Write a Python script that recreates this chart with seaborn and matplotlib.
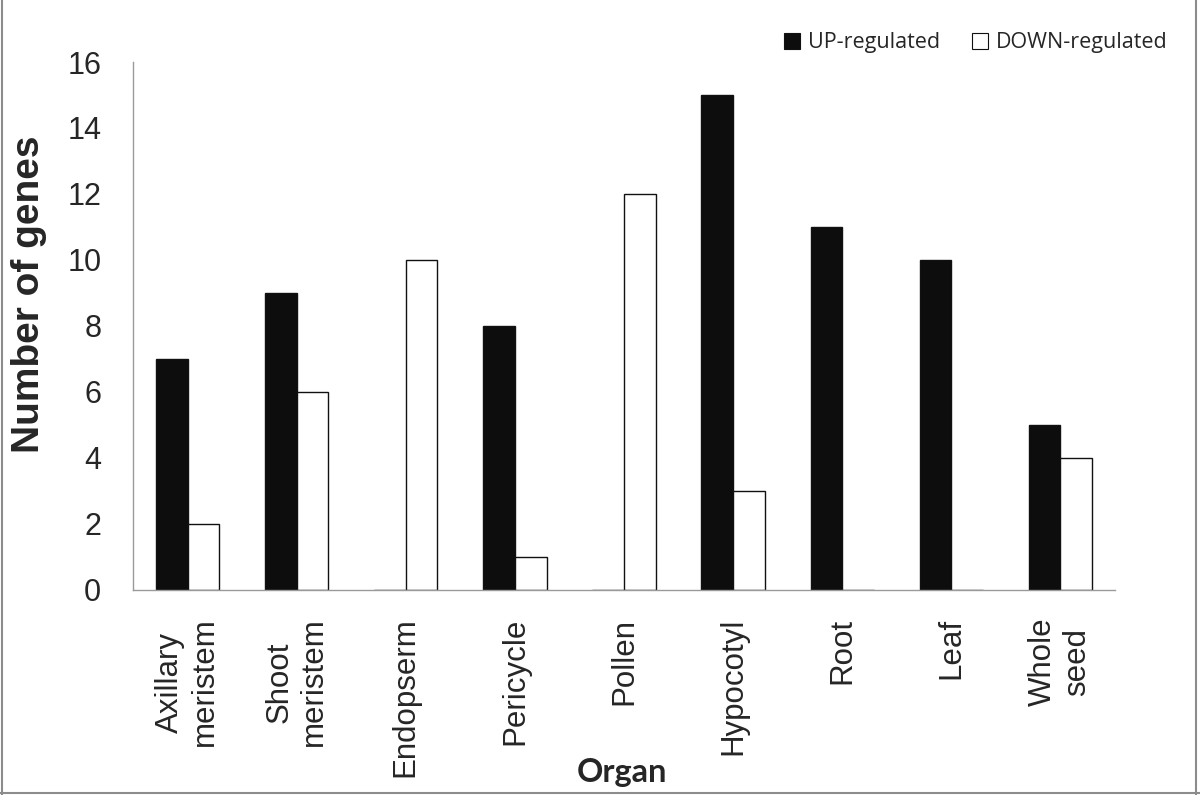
import matplotlib
matplotlib.use("Agg")
import matplotlib.pyplot as plt
import seaborn as sns
import pandas as pd
import numpy as np
from matplotlib.patches import Patch
from matplotlib.lines import Line2D

organs = ["Axillary\nmeristem", "Shoot\nmeristem", "Endopserm", "Pericycle",
          "Pollen", "Hypocotyl", "Root", "Leaf", "Whole\nseed"]
up_regulated = [7, 9, 0, 8, 0, 15, 11, 10, 5]
down_regulated = [2, 6, 10, 1, 12, 3, 0, 0, 4]
series_names = ["UP-regulated", "DOWN-regulated"]
y_ticks = [0, 2, 4, 6, 8, 10, 12, 14, 16]

df = pd.DataFrame({
    "Organ": organs * 2,
    "Genes": up_regulated + down_regulated,
    "Regulation": [series_names[0]] * len(organs) + [series_names[1]] * len(organs),
})

sns.set_theme(style="white")
plt.rcParams["font.family"] = ["Liberation Sans", "DejaVu Sans"]

fig = plt.figure(figsize=(12, 7.95), dpi=100)
ax = fig.add_axes([0.111, 0.258, 0.818, 0.664])

sns.barplot(data=df, x="Organ", y="Genes", hue="Regulation", order=organs,
            hue_order=series_names, palette=["#0d0d0d", "white"], width=0.58,
            edgecolor="#111111", linewidth=1.0, saturation=1, ax=ax, legend=False)

gray = "#9a9a9a"
ax.set_xlim(-0.5, len(organs) - 0.5)
ax.set_ylim(0, 16)
ax.set_yticks(y_ticks)
ax.set_yticklabels([str(v) for v in y_ticks], fontsize=22)
for s in ["top", "right"]:
    ax.spines[s].set_visible(False)
for s in ["left", "bottom"]:
    ax.spines[s].set_color(gray)
    ax.spines[s].set_linewidth(1.0)
ax.tick_params(axis="y", direction="out", length=11, width=1, color=gray, pad=12)
ax.set_xticks(np.arange(len(organs)))
ax.set_xticklabels(organs, rotation=90, fontsize=22.5, va="top", ha="center",
                   multialignment="center")
ax.tick_params(axis="x", which="major", length=0, pad=20)
ax.set_xticks(np.arange(len(organs) + 1) - 0.5, minor=True)
ax.tick_params(axis="x", which="minor", direction="out", length=10, width=1, color=gray)

ax.set_ylabel("Number of genes", fontsize=28, fontweight="bold")
ax.yaxis.set_label_coords(-0.088, 0.56)
ax.set_xlabel("")
fig.text(0.518, 0.028, "Organ", fontsize=23.5, fontweight="bold",
         family=["Lato", "DejaVu Sans"], ha="center", va="center")

handles = [Patch(facecolor="#0d0d0d", edgecolor="#111111", linewidth=0.8),
           Patch(facecolor="white", edgecolor="#111111", linewidth=0.8)]
leg = fig.legend(handles, series_names, loc="center", bbox_to_anchor=(0.813, 0.946),
                 ncol=2, frameon=False, handlelength=0.75, handleheight=0.75,
                 handletextpad=0.35, columnspacing=1.5,
                 prop={"family": ["Open Sans", "DejaVu Sans"], "size": 15.5})

border = "#8c8c8c"
fig.add_artist(Line2D([0.002, 0.002], [0.0, 1.0], color=border, lw=1.5, transform=fig.transFigure))
fig.add_artist(Line2D([0.0, 1.0], [0.003, 0.003], color=border, lw=1.5, transform=fig.transFigure))
fig.add_artist(Line2D([0.997, 0.997], [0.0, 1.0], color=border, lw=1.5, transform=fig.transFigure))

fig.savefig("out.png", dpi=100, facecolor="white")
